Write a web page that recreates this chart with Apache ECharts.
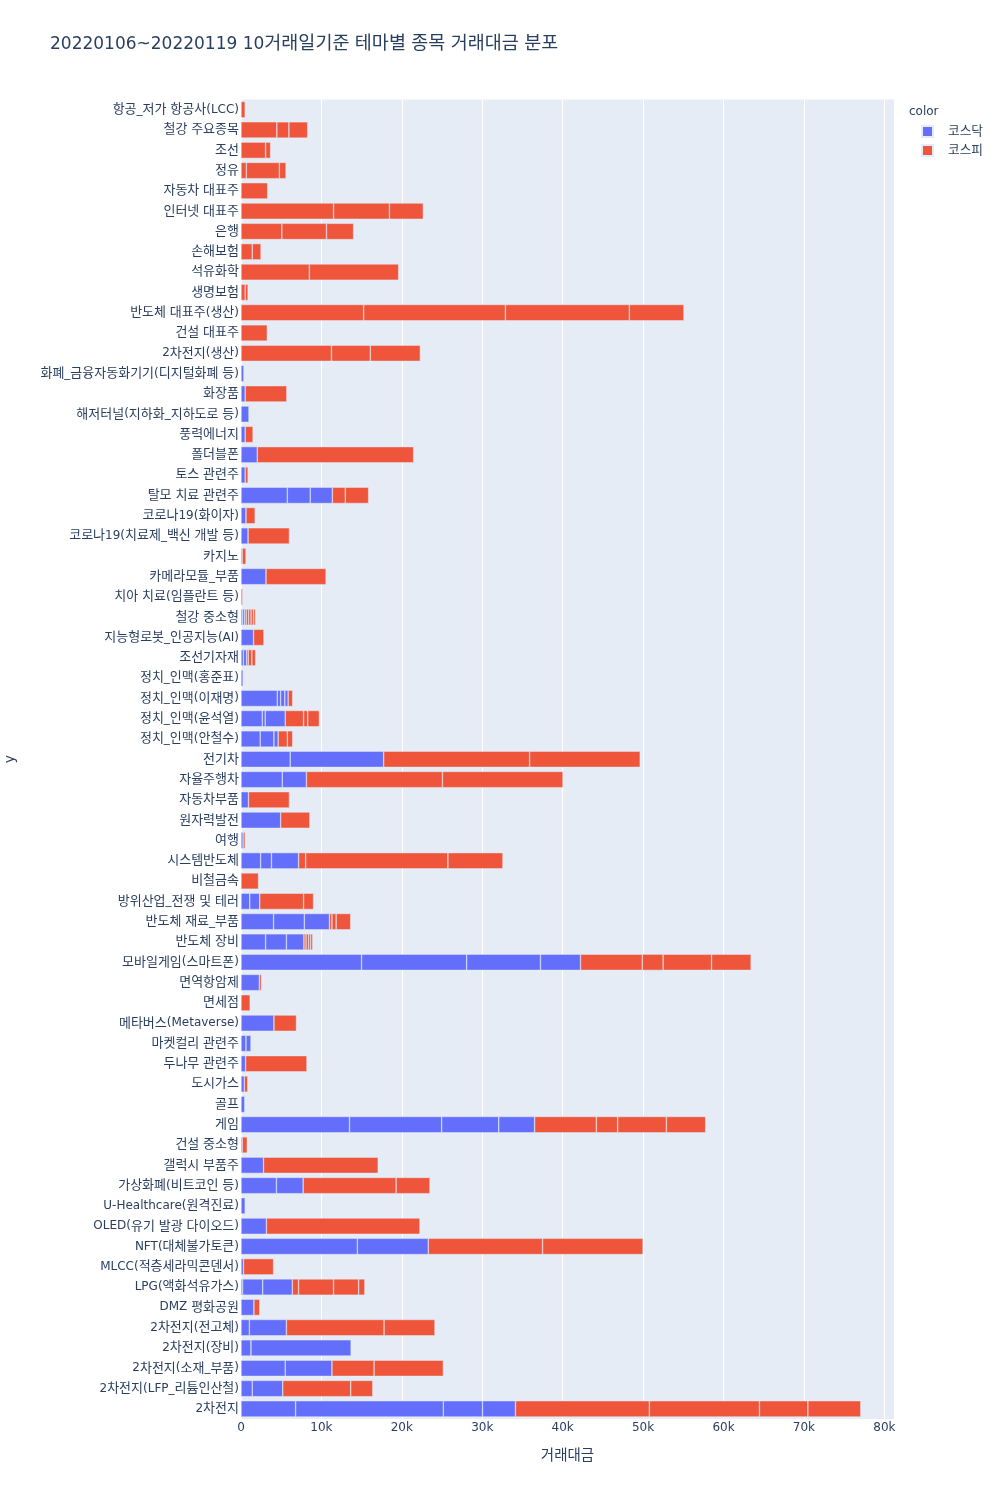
<!DOCTYPE html>
<html>
<head>
<meta charset="utf-8">
<script src="https://cdn.jsdelivr.net/npm/echarts@6/dist/echarts.min.js"></script>
<style>
html,body{margin:0;padding:0;background:#fff;}
#chart{width:1000px;height:1500px;}
</style>
</head>
<body>
<div id="chart"></div>
<script>
// Categories listed top to bottom (values in thousands)
const categories = [
  '항공_저가 항공사(LCC)','철강 주요종목','조선','정유','자동차 대표주','인터넷 대표주','은행','손해보험','석유화학','생명보험',
  '반도체 대표주(생산)','건설 대표주','2차전지(생산)','화폐_금융자동화기기(디지털화폐 등)','화장품','해저터널(지하화_지하도로 등)','풍력에너지','폴더블폰','토스 관련주','탈모 치료 관련주',
  '코로나19(화이자)','코로나19(치료제_백신 개발 등)','카지노','카메라모듈_부품','치아 치료(임플란트 등)','철강 중소형','지능형로봇_인공지능(AI)','조선기자재','정치_인맥(홍준표)','정치_인맥(이재명)',
  '정치_인맥(윤석열)','정치_인맥(안철수)','전기차','자율주행차','자동차부품','원자력발전','여행','시스템반도체','비철금속','방위산업_전쟁 및 테러',
  '반도체 재료_부품','반도체 장비','모바일게임(스마트폰)','면역항암제','면세점','메타버스(Metaverse)','마켓컬리 관련주','두나무 관련주','도시가스','골프',
  '게임','건설 중소형','갤럭시 부품주','가상화폐(비트코인 등)','U-Healthcare(원격진료)','OLED(유기 발광 다이오드)','NFT(대체불가토큰)','MLCC(적층세라믹콘덴서)','LPG(액화석유가스)','DMZ 평화공원',
  '2차전지(전고체)','2차전지(장비)','2차전지(소재_부품)','2차전지(LFP_리튬인산철)','2차전지'
];

// 코스닥 stock segments per category
const kosdaq = [
  [],[],[],[],[],[],[],[],[],[],
  [],[],[],[0.36],[0.52],[0.99],[0.52],[2.02],[0.52],[5.76,2.85,2.75],
  [0.62],[0.88],[0.15],[3.11],[],[0.2,0.25,0.2],[1.56],[0.3,0.4],[0.26],[4.51,0.42,0.52,0.41],
  [2.65,0.36,2.49],[2.39,1.71,0.52],[6.12,11.62],[5.13,3.01],[0.93],[4.93],[0.26],[2.44,1.35,3.37],[],[1.09,1.24],
  [4.05,3.83,3.12],[3.06,2.59,2.18],[14.99,13.07,9.18,4.98],[2.28],[],[4.1],[0.62,0.62],[0.57],[0.41],[0.47],
  [13.49,11.46,7.1,4.46],[0.15],[2.8],[4.41,3.32],[0.52],[3.16],[14.47,8.82],[0.31],[0.2,2.5,3.68],[1.61],
  [1.04,4.61],[1.24,12.45],[5.5,5.81],[1.4,3.79],[6.79,18.37,4.87,4.1]
];

// 코스피 stock segments per category
const kospi = [
  [0.52],[4.46,1.5,2.33],[3.06,0.62],[0.67,4.1,0.83],[3.32],[11.51,6.95,4.21],[5.08,5.55,3.37],[1.4,1.09],[8.5,11.1],[0.52,0.36],
  [15.25,17.63,15.41,6.79],[3.27],[11.25,4.83,6.22],[],[5.18],[],[0.98],[19.45],[0.36],[1.61,2.9],
  [1.14],[5.14],[0.47],[7.47],[0.2],[0.3,0.3,0.3,0.25],[1.29],[0.2,0.45,0.47],[],[0.57],
  [2.28,0.52,1.45],[1.14,0.67],[18.15,13.75],[16.91,14.99],[5.09],[3.63],[0.26],[0.88,17.69,6.84],[2.18],[5.45,1.24],
  [0.31,0.52,1.81],[0.26,0.31,0.26,0.26],[7.68,2.59,6.02,4.92],[0.26],[1.14],[2.8],[],[7.63],[0.42],[],
  [7.68,2.65,6.06,4.88],[0.63],[14.26],[11.56,4.21],[],[19.09],[14.21,12.5],[3.74],[0.78,4.35,3.12,0.77],[0.72],
  [12.14,6.33],[],[5.24,8.61],[8.45,2.75],[16.65,13.69,6.02,6.58]
];

const xTicks = [0,10,20,30,40,50,60,70,80];

const FONT = '"DejaVu Sans", "Noto Sans CJK KR", sans-serif';
const TXT = '#2a3f5f';
const colors = {'코스닥':'#636efa','코스피':'#EF553B'};

// wrap Hangul runs in a rich-text tag (the reference's Korean glyphs are full-width)
function hangulRich(s){ return s.replace(/([\uAC00-\uD7A3]+)/g, '{h|$1}'); }

function buildSeries(name, groups){
  const n = Math.max(...groups.map(g => g.length));
  const out = [];
  for (let j = 0; j < n; j++) {
    out.push({
      name: name,
      type: 'bar',
      stack: 'total',
      barCategoryGap: '20%',
      silent: true,
      data: groups.map(g => (g[j] === undefined ? '-' : g[j])),
      itemStyle: {color: colors[name], borderColor: '#E5ECF6', borderWidth: 0.5}
    });
  }
  return out;
}

const series = buildSeries('코스닥', kosdaq).concat(buildSeries('코스피', kospi));

const chart = echarts.init(document.getElementById('chart'), null, {renderer:'canvas'});
chart.setOption({
  animation: false,
  backgroundColor: '#ffffff',
  textStyle: {fontFamily: FONT, color: TXT},
  title: {
    text: hangulRich('20220106~20220119 10거래일기준 테마별 종목 거래대금 분포'),
    left: 50, top: 35, padding: 0,
    textStyle: {
      fontFamily: FONT, fontSize: 17, fontWeight: 'normal', color: TXT,
      rich: {h: {fontFamily: FONT, fontSize: 18.5, color: TXT}}
    }
  },
  legend: {
    orient: 'vertical',
    left: 921, top: 125, padding: 0,
    itemWidth: 11, itemHeight: 11, itemGap: 6,
    icon: 'rect',
    data: ['코스닥','코스피'],
    selectedMode: false,
    textStyle: {fontFamily: FONT, fontSize: 12.7, color: TXT, padding: [0,0,0,10]}
  },
  graphic: [
    {type:'text', left: 909, top: 106, style:{text:'color', font: '12px ' + FONT, fill: TXT}},
    {type:'text', x: 10, y: 759, rotation: Math.PI/2,
     style:{text:'y', font: '14px ' + FONT, fill: TXT, align:'center', verticalAlign:'middle'}}
  ],
  grid: {
    left: 241, right: 106, top: 99.5, height: 1319.5,
    show: true, backgroundColor: '#E5ECF6', borderWidth: 0, containLabel: false
  },
  xAxis: {
    type: 'value',
    min: xTicks[0], max: 81.2, interval: 10,
    name: '거래대금', nameLocation: 'middle', nameGap: 30,
    nameTextStyle: {fontFamily: FONT, fontSize: 14.5, color: TXT},
    axisLine: {show: false}, axisTick: {show: false},
    splitLine: {show: true, lineStyle: {color: '#ffffff', width: 1}},
    axisLabel: {
      margin: 3, fontSize: 12, color: TXT, fontFamily: FONT,
      showMaxLabel: false,
      formatter: v => (xTicks.indexOf(v) < 0 ? '' : (v === 0 ? '0' : v + 'k'))
    }
  },
  yAxis: {
    type: 'category',
    data: categories,
    inverse: true,
    axisLine: {show: false}, axisTick: {show: false}, splitLine: {show: false},
    axisLabel: {
      margin: 2, fontSize: 12, color: TXT, fontFamily: FONT, interval: 0,
      formatter: v => hangulRich(v),
      rich: {h: {fontFamily: FONT, fontSize: 13, color: TXT}}
    }
  },
  series: series
});
</script>
</body>
</html>
